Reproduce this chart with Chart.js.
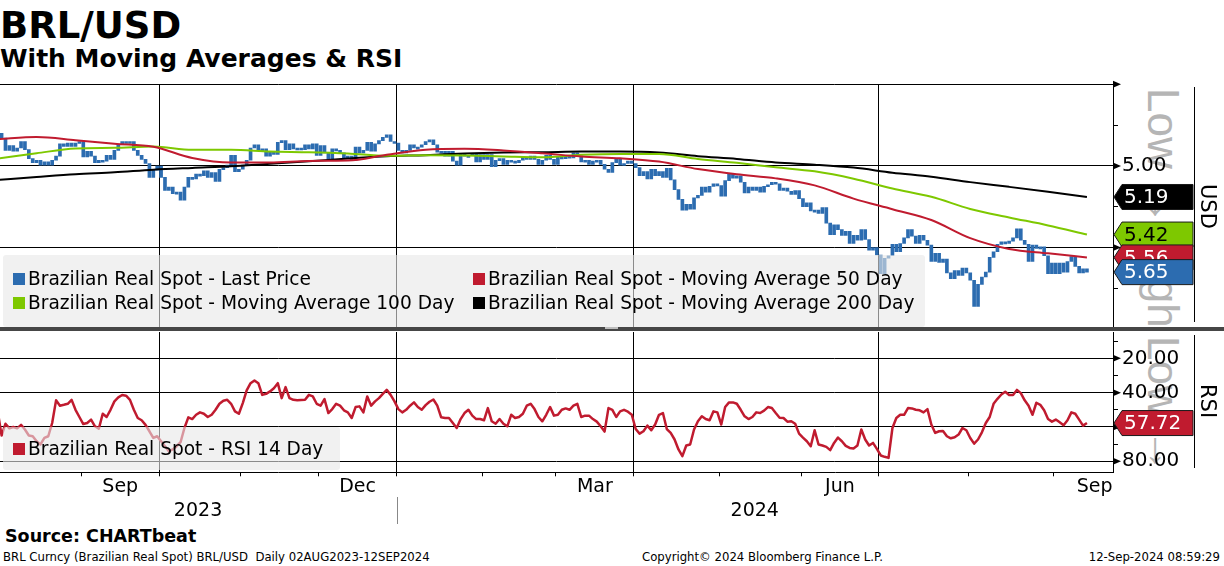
<!DOCTYPE html>
<html lang="en">
<head>
<meta charset="utf-8">
<title>BRL/USD - Moving Averages & RSI</title>
<script src="https://cdn.jsdelivr.net/npm/chart.js@4.4.1/dist/chart.umd.min.js"></script>
<style>
  body { margin: 0; background: #fff; }
  #page { position: relative; width: 1224px; height: 566px; overflow: hidden; font-family: 'DejaVu Sans', sans-serif; color: #000; }
  .txt { position: absolute; white-space: nowrap; line-height: 1; }
  canvas { position: absolute; left: 0; z-index: 1; }
  .marca { position: absolute; left: 1114px; width: 79px; overflow: hidden; z-index: 0; }
  .marca span { position: absolute; left: 27px; top: 4px; writing-mode: vertical-rl; font-family: 'Liberation Sans', sans-serif; font-size: 44px; line-height: 44px; color: #b5b5b5; white-space: nowrap; }
  .eje { position: absolute; left: 1197px; writing-mode: vertical-rl; font-size: 21px; line-height: 21px; white-space: nowrap; z-index: 2; }
  .vline { position: absolute; width: 1px; background: #000; z-index: 2; }
  .leyenda { position: absolute; left: 3px; background: rgba(232, 232, 232, 0.6); border-radius: 3px; z-index: 2; font-size: 18.6px; }
  .cuadro { position: absolute; width: 12px; height: 12px; }
  .pie { font-size: 11.7px; top: 552px; }
</style>
</head>
<body>
<div id="page">
  <div class="txt" style="left:0; top:7px; font-size:37px; font-weight:bold;">BRL/USD</div>
  <div class="txt" style="left:0; top:45.5px; font-size:25px; font-weight:bold;">With Moving Averages &amp; RSI</div>

  <div class="marca" style="top:84px; height:242px;"><span>Low → High</span></div>
  <div class="marca" style="top:332px; height:140px;"><span>Low → High</span></div>

  <canvas id="priceChart" width="1224" height="247" style="top:80px;"></canvas>
  <canvas id="rsiChart" width="1224" height="235" style="top:331px;"></canvas>

  <div style="position:absolute; left:0; top:327px; width:1224px; height:4px; background:#464646; z-index:3;"></div>
  <div style="position:absolute; left:605px; top:327px; width:13px; height:2px; background:#bdbdbd; z-index:3;"></div>

  <div class="vline" style="left:1194px; top:87px; height:235px;"></div>
  <div class="vline" style="left:1194px; top:335px; height:133px;"></div>
  <div class="eje" style="top:184px;">USD</div>
  <div class="eje" style="top:384px;">RSI</div>

  <div class="leyenda" style="top:255px; width:922px; height:72px;">
    <div class="cuadro" style="left:10px; top:18px; background:#2c6cb0;"></div>
    <div class="txt" style="left:25px; top:15.3px;">Brazilian Real Spot - Last Price</div>
    <div class="cuadro" style="left:10px; top:42px; background:#7ec800;"></div>
    <div class="txt" style="left:25px; top:38.6px;">Brazilian Real Spot - Moving Average 100 Day</div>
    <div class="cuadro" style="left:470px; top:18px; background:#c01b2f;"></div>
    <div class="txt" style="left:485px; top:15.3px;">Brazilian Real Spot - Moving Average 50 Day</div>
    <div class="cuadro" style="left:470px; top:42px; background:#000;"></div>
    <div class="txt" style="left:485px; top:38.6px;">Brazilian Real Spot - Moving Average 200 Day</div>
  </div>

  <div class="leyenda" style="top:427px; width:337px; height:43px;">
    <div class="cuadro" style="left:10px; top:16px; background:#c01b2f;"></div>
    <div class="txt" style="left:25px; top:13.3px;">Brazilian Real Spot - RSI 14 Day</div>
  </div>

  <div style="position:absolute; left:397px; top:497px; width:1px; height:27px; background:#888;"></div>

  <div class="txt" style="left:5px; top:528px; font-size:17.5px; font-weight:bold;">Source: CHARTbeat</div>
  <div class="txt pie" style="left:3px;">BRL Curncy (Brazilian Real Spot) BRL/USD&nbsp; Daily 02AUG2023-12SEP2024</div>
  <div class="txt pie" style="left:642px;">Copyright© 2024 Bloomberg Finance L.P.</div>
  <div class="txt pie" style="right:4px;">12-Sep-2024 08:59:29</div>
</div>

<script>
// Datos: un valor por día hábil (índice 0 = 02-Ago-2023)
const lastPrice = [
  4.80, 4.83, 4.905, 4.875, 4.91, 4.89, 4.85, 4.90, 4.955, 4.98,
  4.965, 4.995, 4.975, 4.995, 4.965, 4.94, 4.865, 4.88, 4.86, 4.88,
  4.86, 4.85, 4.945, 4.91, 4.94, 4.98, 4.965, 4.97, 4.935, 4.96,
  4.905, 4.87, 4.85, 4.86, 4.85, 4.905, 4.935, 4.96, 4.985, 5.07,
  5.025, 5.00, 5.07, 5.15, 5.13, 5.17, 5.16, 5.21, 5.13, 5.07,
  5.08, 5.05, 5.06, 5.03, 5.07, 5.04, 5.095, 5.02, 5.01, 4.995,
  4.935, 5.035, 5.02, 4.995, 4.965, 4.89, 4.87, 4.905, 4.895, 4.94,
  4.915, 4.93, 4.855, 4.845, 4.90, 4.865, 4.895, 4.89, 4.90, 4.87,
  4.895, 4.865, 4.935, 4.875, 4.92, 4.96, 4.895, 4.905, 4.92, 4.955,
  4.94, 4.965, 4.885, 4.92, 4.905, 4.855, 4.91, 4.865, 4.845, 4.825,
  4.81, 4.85, 4.86, 4.905, 4.92, 4.905, 4.87, 4.89, 4.885, 4.87,
  4.85, 4.84, 4.87, 4.915, 4.91, 4.94, 4.91, 4.97, 4.995, 4.925,
  4.94, 4.935, 4.925, 4.975, 4.93, 4.96, 4.93, 5.005, 4.965, 4.955,
  4.99, 4.965, 4.97, 4.98, 4.965, 4.945, 4.96, 4.94, 4.96, 4.99,
  4.965, 4.935, 4.96, 4.99, 4.945, 4.955, 4.94, 4.95, 4.92, 4.94,
  4.975, 4.965, 4.99, 4.97, 4.965, 4.99, 5.02, 5.04, 4.98, 4.96,
  4.995, 4.985, 4.97, 4.985, 5.01, 5.06, 5.035, 5.08, 5.02, 5.06,
  5.035, 5.07, 5.015, 5.085, 5.145, 5.205, 5.27, 5.235, 5.265, 5.195,
  5.18, 5.13, 5.16, 5.125, 5.11, 5.12, 5.185, 5.09, 5.05, 5.075,
  5.06, 5.10, 5.165, 5.13, 5.15, 5.13, 5.16, 5.125, 5.115, 5.10,
  5.11, 5.15, 5.135, 5.155, 5.175, 5.15, 5.20, 5.25, 5.225, 5.275,
  5.27, 5.29, 5.255, 5.35, 5.42, 5.36, 5.39, 5.425, 5.40, 5.475,
  5.425, 5.455, 5.39, 5.45, 5.515, 5.50, 5.545, 5.66, 5.565, 5.55,
  5.48, 5.525, 5.475, 5.44, 5.39, 5.43, 5.475, 5.425, 5.455, 5.485,
  5.585, 5.535, 5.59, 5.57, 5.655, 5.69, 5.64, 5.67, 5.625, 5.655,
  5.70, 5.86, 5.725, 5.68, 5.65, 5.56, 5.525, 5.48, 5.465, 5.475,
  5.46, 5.44, 5.385, 5.455, 5.48, 5.585, 5.485, 5.505, 5.495, 5.55,
  5.66, 5.595, 5.66, 5.595, 5.65, 5.585, 5.555, 5.615, 5.655, 5.63,
  5.65
];

const rsi14 = [
  50.9, 65.0, 58.1, 60.8, 60.0, 60.8, 58.8, 61.5, 65.0, 65.4,
  68.3, 70.2, 66.4, 65.4, 57.7, 44.5, 47.6, 47.1, 46.5, 44.2,
  50.0, 54.2, 58.3, 57.7, 55.7, 59.6, 61.0, 52.3, 54.2, 50.0,
  45.1, 42.8, 41.4, 41.8, 44.2, 50.0, 54.8, 56.1, 58.8, 62.5,
  66.4, 65.4, 68.3, 71.2, 74.1, 73.1, 71.2, 68.9, 60.6, 54.4,
  55.4, 52.9, 51.5, 52.3, 54.2, 52.9, 50.0, 46.5, 44.7, 44.2,
  46.5, 50.9, 52.3, 46.1, 38.7, 34.5, 32.9, 34.5, 41.3, 40.7,
  39.3, 37.4, 34.5, 43.2, 36.8, 43.2, 44.2, 44.5, 44.3, 44.2,
  41.3, 42.2, 46.5, 47.6, 43.8, 51.9, 49.6, 46.5, 47.6, 50.3,
  51.5, 54.8, 48.4, 48.0, 51.5, 42.2, 47.6, 45.1, 43.2, 40.7,
  38.4, 41.3, 45.1, 49.6, 51.5, 50.0, 47.6, 45.7, 48.4, 50.0,
  47.3, 45.3, 44.0, 47.6, 54.4, 54.8, 54.8, 57.7, 60.6, 55.4,
  51.9, 50.0, 53.4, 55.4, 55.4, 56.1, 49.0, 56.7, 58.1, 55.4,
  58.1, 59.6, 52.9, 54.8, 54.2, 52.3, 47.6, 46.5, 49.6, 54.2,
  56.7, 52.9, 48.4, 53.4, 52.9, 50.0, 49.2, 50.0, 47.6, 46.5,
  54.2, 53.4, 53.4, 55.4, 56.9, 59.6, 62.7, 49.0, 50.0, 54.2,
  50.9, 50.0, 51.1, 52.9, 61.2, 63.9, 62.5, 59.2, 61.9, 58.6,
  52.9, 51.9, 61.2, 63.5, 67.3, 73.1, 77.0, 70.8, 70.2, 61.5,
  56.7, 53.8, 55.4, 56.1, 50.9, 51.5, 58.6, 48.4, 45.7, 45.7,
  46.5, 50.0, 53.8, 55.4, 54.2, 51.5, 51.9, 50.5, 48.4, 49.0,
  51.9, 54.6, 54.8, 56.9, 56.7, 58.1, 63.9, 66.2, 68.3, 71.2,
  61.9, 70.2, 70.8, 71.6, 73.5, 69.3, 66.2, 68.3, 71.0, 72.2,
  72.6, 70.8, 61.5, 67.3, 70.8, 69.3, 72.8, 76.6, 77.4, 78.0,
  60.6, 54.8, 52.9, 52.9, 49.0, 49.2, 50.0, 50.3, 51.5, 49.6,
  58.6, 63.5, 62.5, 62.3, 65.4, 66.6, 66.0, 64.4, 60.6, 61.9,
  66.4, 69.7, 67.3, 63.1, 57.7, 54.2, 46.5, 43.6, 41.1, 39.5,
  41.4, 41.4, 38.4, 40.3, 44.5, 47.6, 52.9, 45.9, 47.1, 50.3,
  55.4, 56.9, 55.7, 57.3, 59.0, 56.1, 51.5, 52.3, 55.7, 59.2,
  57.72
];

// Medias móviles leídas cada 10 días hábiles
const maDay = [0, 10, 20, 30, 40, 50, 60, 70, 80, 90, 100, 110, 120, 130, 140,
  150, 160, 170, 180, 190, 200, 210, 220, 230, 240, 250, 260, 270, 280];
const ma50 = [4.835, 4.823, 4.842, 4.864, 4.883, 4.951, 4.979, 4.979, 4.969, 4.967,
  4.932, 4.901, 4.895, 4.905, 4.922, 4.942, 4.953, 4.973, 5.019, 5.051,
  5.076, 5.119, 5.200, 5.265, 5.331, 5.442, 5.508, 5.535, 5.56];
const ma100 = [4.955, 4.922, 4.893, 4.889, 4.881, 4.901, 4.901, 4.912, 4.916, 4.924,
  4.938, 4.934, 4.936, 4.942, 4.947, 4.932, 4.926, 4.926, 4.957, 4.981,
  5.008, 5.033, 5.078, 5.138, 5.189, 5.263, 5.315, 5.364, 5.42];
const ma200 = [5.086, 5.068, 5.051, 5.039, 5.023, 5.012, 5.002, 4.986, 4.971, 4.955,
  4.940, 4.934, 4.924, 4.918, 4.916, 4.912, 4.912, 4.918, 4.940, 4.957,
  4.979, 4.992, 5.010, 5.041, 5.066, 5.099, 5.128, 5.158, 5.19];

// Ejes: posiciones en días hábiles
const xMin = 0.59, xMax = 286.7;
const monthEdges = [21.5, 41.5, 62.5, 82.5, 102.5, 124.5, 143.5, 163.5, 185.5, 206.5, 226.5, 249.5, 271.5];
const quarterEdges = [41.5, 102.5, 163.5, 226.5];
const monthLabelPos = [31.5, 92.5, 153.5, 216.5, 282];
const monthLabels = ['Sep', 'Dec', 'Mar', 'Jun', 'Sep'];
const yearLabelPos = [51.5, 194.6];
const yearLabels = ['2023', '2024'];
const priceTicks = [4.5, 4.75, 5.0, 5.25, 5.5, 5.75];
const priceMajor = [4.5, 5.0, 5.5];
const priceLabels = [5.0];
const rsiTicks = [10, 20, 30, 40, 50, 60, 70, 80];
const rsiMajor = [20, 40, 60, 80];
const rsiLabels = [20, 40, 80];

const BLUE = '#2c6cb0', RED = '#c01b2f', GREEN = '#7ec800', BLACK = '#000';

Chart.defaults.font.family = "'DejaVu Sans', sans-serif";
Chart.defaults.color = '#000';

// Banderas con el último valor y flechas de los ticks principales
function sideMarks(flags, arrows) {
    return {
        id: 'sideMarks',
        afterDraw(chart) {
            const { ctx, chartArea } = chart;
            const yScale = chart.scales.y;
            const x0 = chartArea.right;
            ctx.save();
            ctx.fillStyle = '#000';
            arrows.forEach(v => {
                const py = yScale.getPixelForValue(v);
                ctx.beginPath();
                ctx.moveTo(x0, py - 3.5);
                ctx.lineTo(x0 + 8, py);
                ctx.lineTo(x0, py + 3.5);
                ctx.closePath();
                ctx.fill();
            });
            flags.forEach(f => {
                const py = yScale.getPixelForValue(f.value);
                ctx.beginPath();
                ctx.moveTo(x0 + 1, py);
                ctx.lineTo(x0 + 9, py - 12.5);
                ctx.lineTo(x0 + 80, py - 12.5);
                ctx.lineTo(x0 + 80, py + 12.5);
                ctx.lineTo(x0 + 9, py + 12.5);
                ctx.closePath();
                ctx.fillStyle = f.bg;
                ctx.fill();
                ctx.strokeStyle = '#1a1a1a';
                ctx.lineWidth = 1;
                ctx.stroke();
                ctx.fillStyle = f.fg;
                ctx.font = "20px 'DejaVu Sans'";
                ctx.textBaseline = 'middle';
                ctx.fillText(f.value.toFixed(2), x0 + 11, py + 1);
            });
            ctx.restore();
        }
    };
}

function rightAxis(ticks, major, labels, min, max) {
    return {
        position: 'right',
        reverse: true,
        min: min,
        max: max,
        afterBuildTicks: s => { s.ticks = ticks.map(v => ({ value: v })); },
        afterFit: s => { s.width = 111; s.paddingTop = 0; s.paddingBottom = 0; },
        ticks: {
            autoSkip: false,
            padding: 4,
            font: { size: 20 },
            color: '#000',
            callback: v => labels.includes(v) ? v.toFixed(2) : ''
        },
        grid: {
            color: c => major.includes(c.tick.value) ? '#000' : 'rgba(0,0,0,0)',
            tickColor: '#000',
            tickLength: 5,
            lineWidth: 1
        },
        border: { color: '#000', width: 1 }
    };
}

function last(arr) { return arr[arr.length - 1]; }

function initCharts() {
    // Panel superior: precio y medias móviles
    const priceBars = lastPrice.map((v, i) => ({ x: i, y: [i === 0 ? v : lastPrice[i - 1], v] }));
    const toPoints = arr => arr.map((v, k) => ({ x: maDay[k], y: v }));

    new Chart(document.getElementById('priceChart'), {
        type: 'bar',
        data: {
            datasets: [
                { type: 'line', data: toPoints(ma50), borderColor: RED, borderWidth: 2, pointRadius: 0, cubicInterpolationMode: 'monotone', order: 1 },
                { type: 'line', data: toPoints(ma100), borderColor: GREEN, borderWidth: 2, pointRadius: 0, cubicInterpolationMode: 'monotone', order: 2 },
                { type: 'line', data: toPoints(ma200), borderColor: BLACK, borderWidth: 2, pointRadius: 0, cubicInterpolationMode: 'monotone', order: 3 },
                { type: 'bar', data: priceBars, backgroundColor: BLUE, barThickness: 3, minBarLength: 2, order: 4 }
            ]
        },
        options: {
            responsive: false,
            animation: false,
            events: [],
            layout: { padding: { top: 4.3, left: 0, right: 0, bottom: 0 } },
            plugins: { legend: { display: false }, tooltip: { enabled: false } },
            scales: {
                x: {
                    type: 'linear', min: xMin, max: xMax, offset: false,
                    afterBuildTicks: s => { s.ticks = quarterEdges.map(v => ({ value: v })); },
                    afterFit: s => { s.height = 0; s.paddingLeft = 0; s.paddingRight = 0; },
                    ticks: { display: false },
                    grid: { color: '#000', drawTicks: false, offset: false },
                    border: { display: false }
                },
                y: rightAxis(priceTicks, priceMajor, priceLabels, 4.5, 5.986)
            }
        },
        plugins: [sideMarks([
            { value: last(ma200), bg: BLACK, fg: '#fff' },
            { value: last(ma100), bg: GREEN, fg: '#000' },
            { value: last(ma50), bg: RED, fg: '#fff' },
            { value: last(lastPrice), bg: BLUE, fg: '#fff' }
        ], priceMajor)]
    });

    // Panel inferior: RSI 14 días
    new Chart(document.getElementById('rsiChart'), {
        type: 'line',
        data: {
            datasets: [{
                data: rsi14.map((v, i) => ({ x: i, y: v })),
                borderColor: RED, borderWidth: 2.5, pointRadius: 0, tension: 0, borderJoinStyle: 'round'
            }]
        },
        options: {
            responsive: false,
            animation: false,
            events: [],
            layout: { padding: { top: 1, left: 0, right: 0, bottom: 40.7 } },
            plugins: { legend: { display: false }, tooltip: { enabled: false } },
            scales: {
                x: {
                    type: 'linear', min: xMin, max: xMax, position: 'bottom', weight: 0,
                    afterBuildTicks: s => { s.ticks = monthEdges.map(v => ({ value: v })); },
                    afterFit: s => { s.height = 4; s.paddingLeft = 0; s.paddingRight = 0; },
                    ticks: { display: false },
                    grid: {
                        color: c => quarterEdges.includes(c.tick.value) ? '#000' : 'rgba(0,0,0,0)',
                        tickColor: '#000', tickLength: 4, drawTicks: true
                    },
                    border: { color: '#000', width: 1 }
                },
                xm: {
                    type: 'linear', axis: 'x', min: xMin, max: xMax, position: 'bottom', weight: 1,
                    afterBuildTicks: s => { s.ticks = monthLabelPos.map(v => ({ value: v })); },
                    afterFit: s => { s.height = 23; s.paddingLeft = 0; s.paddingRight = 0; },
                    ticks: { autoSkip: false, maxRotation: 0, padding: -1, font: { size: 19 }, color: '#000', callback: (v, i) => monthLabels[i] },
                    grid: { display: false, drawTicks: false },
                    border: { display: false }
                },
                xy: {
                    type: 'linear', axis: 'x', min: xMin, max: xMax, position: 'bottom', weight: 2,
                    afterBuildTicks: s => { s.ticks = yearLabelPos.map(v => ({ value: v })); },
                    afterFit: s => { s.height = 26; s.paddingLeft = 0; s.paddingRight = 0; },
                    ticks: { autoSkip: false, maxRotation: 0, padding: 0, font: { size: 19 }, color: '#000', callback: (v, i) => yearLabels[i] },
                    grid: { display: false, drawTicks: false },
                    border: { display: false }
                },
                y: rightAxis(rsiTicks, rsiMajor, rsiLabels, 4.68, 86.41)
            }
        },
        plugins: [sideMarks([
            { value: last(rsi14), bg: RED, fg: '#fff' }
        ], rsiMajor)]
    });
}

document.addEventListener('DOMContentLoaded', initCharts);
</script>
</body>
</html>
